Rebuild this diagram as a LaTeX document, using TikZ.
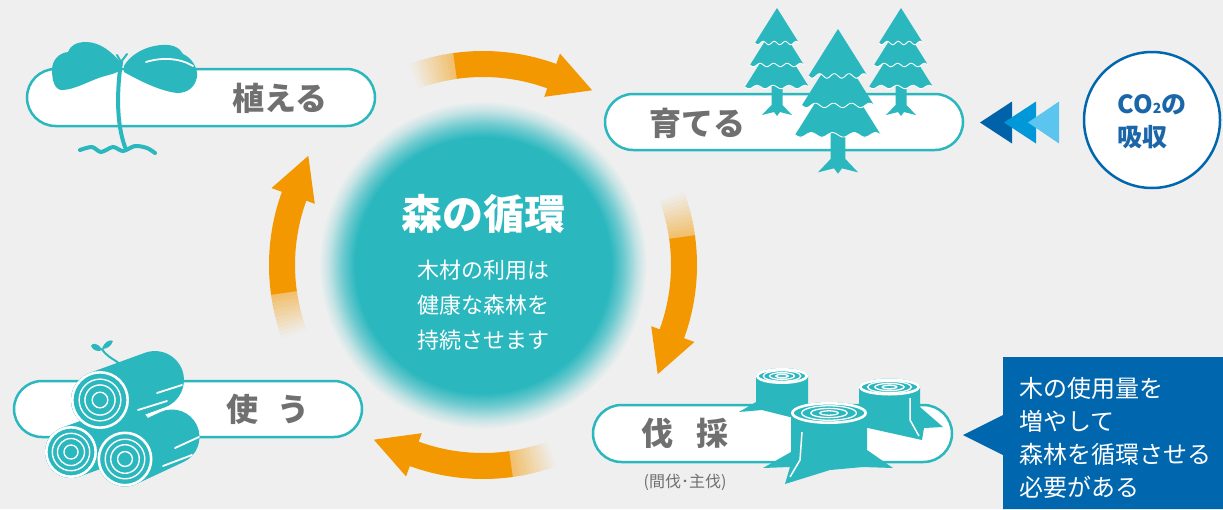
\documentclass[tikz,border=0pt]{standalone}
\usepackage{fontspec}
\setmainfont{Noto Sans CJK JP}
\usetikzlibrary{calc}

\definecolor{bgc}{HTML}{EFEFEF}
\definecolor{tealc}{HTML}{2AB7BE}
\definecolor{arrowc}{HTML}{F39800}
\definecolor{labelc}{HTML}{707070}
\definecolor{bluec}{HTML}{0067AE}
\definecolor{blued}{HTML}{0062A8}
\definecolor{bluem}{HTML}{0098D8}
\definecolor{bluel}{HTML}{5BC4EF}
\definecolor{co2c}{HTML}{1A66A8}

% soft-edged disc in the middle of the cycle
\pgfdeclareradialshading{glow}{\pgfpointorigin}{color(0bp)=(tealc); color(19.5bp)=(tealc); color(21.5bp)=(tealc!65!bgc); color(23.5bp)=(tealc!22!bgc); color(25bp)=(bgc); color(50bp)=(bgc)}

\tikzset{
  pill/.style={draw=tealc, fill=white, line width=2.5pt, inner sep=0pt},
  pilltext/.style={text=labelc, font=\fontsize{32}{32}\selectfont\bfseries, inner sep=0pt},
}

% centre of the cycle and radii of the orange bands
\def\cycX{483}\def\cycY{265}\def\rOut{214}\def\rIn{188}

% one curved orange arrow, starting (faded) at angle #1 and running clockwise
\newcommand\cyclearrow[1]{%
  \foreach \i in {0,...,11}{%
    \pgfmathsetmacro\pa{#1-\i}%
    \pgfmathsetmacro\pb{#1-\i-1.5}%
    \pgfmathtruncatemacro\pc{4+4.5*\i}%
    \fill[arrowc!\pc!bgc] plot[domain=\pa:\pb,samples=3] ({\cycX+\rOut*cos(\x)},{\cycY-\rOut*sin(\x)})
      -- plot[domain=\pb:\pa,samples=3] ({\cycX+\rIn*cos(\x)},{\cycY-\rIn*sin(\x)}) -- cycle;
  }%
  \pgfmathsetmacro\aS{#1-12}%
  \pgfmathsetmacro\aB{#1-40}%
  \pgfmathsetmacro\aT{#1-52}%
  \fill[arrowc] plot[domain=\aS:\aB,samples=40] ({\cycX+\rOut*cos(\x)},{\cycY-\rOut*sin(\x)})
    -- ({\cycX+225*cos(\aB)},{\cycY-225*sin(\aB)})
    -- ({\cycX+206*cos(\aT)},{\cycY-206*sin(\aT)})
    -- ({\cycX+179*cos(\aB)},{\cycY-179*sin(\aB)})
    -- plot[domain=\aB:\aS,samples=40] ({\cycX+\rIn*cos(\x)},{\cycY-\rIn*sin(\x)}) -- cycle;
}

% one tier of a fir: apex y, bottom y, half width
\newcommand\firtier[3]{%
  \fill[tealc] (0,#1) -- (#3,#2) -- plot[domain=#3:-#3,samples=41,smooth] (\x,{#2+1.7*sin(\x/#3*720)}) -- cycle;
  \draw[white,line width=0.9pt] plot[domain=#3:-#3,samples=41,smooth] (\x,{#2+1.7*sin(\x/#3*720)});
}
\newcommand\firtree{%
  \fill[tealc] (-5.5,70) -- (5.5,70) -- (5.5,97) -- (15,107) -- (3,104) -- (0,108) -- (-3,104) -- (-15,107) -- (-5.5,97) -- cycle;
  \firtier{28}{79}{32}
  \firtier{14}{57}{27}
  \firtier{0}{35}{22}
}

% end face of a log: x, y, radius
\newcommand\logface[3]{%
  \fill[tealc] (#1,#2) circle ({#3});
  \draw[white,line width=2.6pt] (#1,#2) circle ({#3-1.3});
  \draw[white,line width=1.4pt] (#1,#2) circle ({0.72*#3}) (#1,#2) circle ({0.52*#3}) (#1,#2) circle ({0.27*#3});
}

% top face of a stump: x, y, half width, half height
\newcommand\ringface[4]{%
  \fill[tealc] (#1,#2) ellipse ({#3} and {#4});
  \draw[white,line width=2.6pt] (#1,#2) ellipse ({#3-1.3} and {#4-1.3});
  \draw[white,line width=1.3pt] (#1,#2) ellipse ({0.72*#3} and {0.66*#4}) (#1,#2) ellipse ({0.48*#3} and {0.42*#4}) (#1,#2) ellipse ({0.24*#3} and {0.2*#4});
}

\begin{document}
\begin{tikzpicture}[x=1pt,y=-1pt]
\useasboundingbox (0,0) rectangle (1223,509);
\fill[bgc] (0,0) rectangle (1223,509);

% central disc
\shade[shading=glow] (\cycX,\cycY) circle (164);

% the four arrows of the cycle
\cyclearrow{110}
\cyclearrow{20}
\cyclearrow{-70}
\cyclearrow{200}

% stage boxes
\node[pill, rounded corners=28.5pt, minimum width=348pt, minimum height=57pt] (plant) at (201,97.5) {};
\node[pill, rounded corners=28pt, minimum width=358pt, minimum height=56pt] (grow) at (784,122) {};
\node[pill, rounded corners=28pt, minimum width=348pt, minimum height=56pt] (use) at (188,409) {};
\node[pill, rounded corners=28.5pt, minimum width=359pt, minimum height=57pt] (cut) at (772.5,433.5) {};

% seedling
\draw[tealc, line width=4pt, line cap=round] (121,62) .. controls (117,90) and (116,122) .. (125,147);
\draw[tealc, line width=2pt, line cap=round] (121,62) -- (117,55) (121,62) -- (127,54);
\fill[tealc] (121,63) .. controls (112,52) and (100,42) .. (86,42)
  .. controls (76,42) and (70,46) .. (68,52)
  .. controls (59,53) and (52,60) .. (52,70)
  .. controls (52,81) and (55,90) .. (62,90)
  .. controls (75,90) and (90,80) .. (105,76)
  .. controls (112,74) and (118,73) .. (121,69) -- cycle;
\fill[tealc] (124,66) .. controls (130,55) and (145,46) .. (162,45)
  .. controls (173,44) and (180,48) .. (183,54)
  .. controls (192,58) and (198,68) .. (197,77)
  .. controls (195,87) and (188,93) .. (177,93)
  .. controls (160,91) and (140,81) .. (124,72) -- cycle;
\draw[white, line width=1.8pt, line cap=round] (146,62) .. controls (162,57) and (180,58) .. (193,66);
\draw[tealc, line width=4pt, line cap=round] plot[smooth] coordinates {(80,150) (92,147) (101,152) (113,147) (123,151) (135,146) (147,148) (155,153)};

% firs
\begin{scope}[shift={(777,8)}]\firtree\end{scope}
\begin{scope}[shift={(901,8)}]\firtree\end{scope}
\begin{scope}[shift={(838,29)},scale=1.34]\firtree\end{scope}

% stacked logs
\draw[tealc, line width=52pt, line cap=round] (71,452) -- (126,432);
\draw[tealc, line width=55pt, line cap=round] (125,459) -- (172,437);
\draw[tealc, line width=58pt, line cap=round] (100,400) -- (155,380);
\draw[white, line width=1.8pt, line cap=round] (157,393) -- (182,385) (138,410) -- (167,401) (175,448) -- (199,437) (163,466) -- (192,455);
\logface{71}{452}{26}
\logface{125}{459}{27.5}
\logface{100}{400}{29}
\draw[tealc, line width=2pt, line cap=round] (120,364) .. controls (112,358) and (106,356) .. (102,349);
\fill[tealc] (102,350) .. controls (98,342) and (92,343) .. (91,346) .. controls (93,351) and (99,352) .. (102,350);
\fill[tealc] (102,349) .. controls (104,342) and (110,339) .. (113,341) .. controls (111,347) and (106,349) .. (102,349);

% stumps
\fill[tealc] (756,376) -- (756,402) -- (739,412) -- (762,410) -- (790,417) -- (808,412) -- (808,376) -- cycle;
\ringface{782}{376}{26}{8}
\fill[tealc] (859,387) -- (859,426) -- (922,440) -- (924,428) -- (943,427) -- (920,407) -- (920,387) -- cycle;
\draw[white, line width=1.5pt] (910,398) -- (910,420) -- (919,436);
\ringface{889.5}{387}{30.5}{8.5}
\fill[tealc] (791,413) -- (791,452) -- (763,468) -- (790,467) -- (785,484) -- (830,470) -- (863,467) -- (893,468) -- (867,450) -- (867,413) -- cycle;
\draw[white, line width=1.5pt] (802,432) -- (800,460) -- (790,477);
\ringface{829}{413}{38}{11}

% stage labels
\node[pilltext] (tplant) at (280,98) {植える};
\node[pilltext] (tgrow) at (697,123) {育てる};
\node[pilltext] (tuse) at (268,409) {使\hspace{0.6em}う};
\node[pilltext] (tcut) at (685,433) {伐\hspace{0.72em}採};
\node[text=labelc, font=\fontsize{16}{16}\selectfont, inner sep=0pt] (tcutsub) at (685,482) {(間伐･主伐)};

% centre text
\node[text=white, font=\fontsize{41}{41}\selectfont\bfseries, inner sep=0pt] (title) at (483,214) {森の循環};
\node[text=white, font=\fontsize{22}{35}\selectfont, align=center, inner sep=0pt] (body) at (483,305) {木材の利用は\\健康な森林を\\持続させます};

% CO2 uptake
\fill[blued] (980,122.5) -- (1012,101.5) -- (1012,143.5) -- cycle;
\fill[bluem] (1004,122.5) -- (1036,101.5) -- (1036,143.5) -- cycle;
\fill[bluel] (1028,122.5) -- (1059,101.5) -- (1059,143.5) -- cycle;
\node[circle, draw=bluec, fill=white, line width=2.5pt, minimum size=136pt, inner sep=0pt] (co2) at (1152,120) {};
\node[text=co2c, font=\fontsize{25}{33}\selectfont\bfseries, align=left, inner sep=0pt] (co2text) at (1152,121.5) {CO{\fontsize{14}{14}\selectfont 2}の\\吸収};

% message box
\fill[bluec] (1003,357) -- (1223,357) -- (1223,509) -- (1003,509) -- (1003,455) -- (963,435) -- (1003,415) -- cycle;
\node[text=white, font=\fontsize{24}{33}\selectfont, align=left, anchor=west, inner sep=0pt] (msg) at (1019,437.5) {木の使用量を\\増やして\\森林を循環させる\\必要がある};
\end{tikzpicture}
\end{document}
